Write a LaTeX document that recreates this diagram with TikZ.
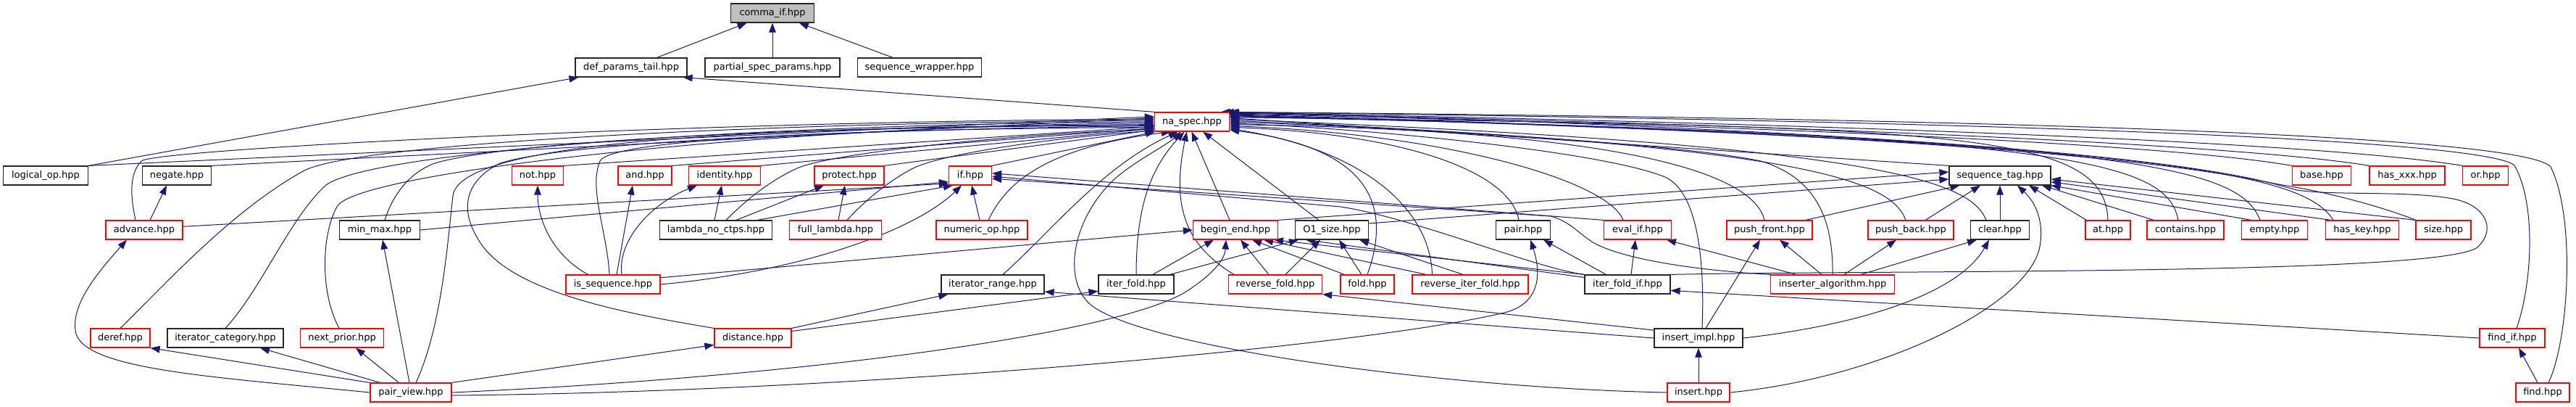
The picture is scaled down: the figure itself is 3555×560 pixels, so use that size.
\documentclass[tikz,border=0pt]{standalone}
\usepackage{fontspec}
\newfontfamily\nf{DejaVu Sans}
\usetikzlibrary{arrows.meta,calc}
\definecolor{edgec}{HTML}{191970}
\definecolor{redb}{HTML}{FF0000}
\pgfdeclarelayer{bg}
\pgfsetlayers{bg,main}
\begin{document}
\begin{tikzpicture}[x=1pt,y=1pt,
  nb/.style={draw=black!85, line width=1.2pt, fill=white, minimum height=26pt, inner sep=0pt, font={\nf\fontsize{13}{15}\selectfont}},
  nr/.style={nb, draw=redb},
  ln/.style={draw=edgec, line width=1pt, -{Triangle[length=13pt,width=9.5pt]}}]
\path[use as bounding box] (0,0) rectangle (3555,-560);
% row 0
\node[nb, fill=black!25, minimum width=115pt] (cif) at (1066,-18) {comma\_if.hpp};
% row 1
\node[nb, minimum width=154pt] (dpt) at (871,-93) {def\_params\_tail.hpp};
\node[nb, minimum width=186pt] (psp) at (1066,-93) {partial\_spec\_params.hpp};
\node[nb, minimum width=171pt] (sw) at (1269,-93) {sequence\_wrapper.hpp};
% row 2
\node[nr, minimum width=103pt] (na) at (1645,-168) {na\_spec.hpp};
% row 3
\node[nb, minimum width=117pt] (lop) at (63,-242) {logical\_op.hpp};
\node[nb, minimum width=95pt] (neg) at (244,-242) {negate.hpp};
\node[nr, minimum width=71pt] (nott) at (742,-242) {not.hpp};
\node[nr, minimum width=74pt] (andd) at (890,-242) {and.hpp};
\node[nr, minimum width=99pt] (ident) at (1000,-242) {identity.hpp};
\node[nr, minimum width=96pt] (prot) at (1172,-242) {protect.hpp};
\node[nr, minimum width=59pt] (iff) at (1339,-242) {if.hpp};
\node[nb, minimum width=140pt] (stag) at (2760,-242) {sequence\_tag.hpp};
\node[nr, minimum width=81pt] (base) at (3204,-242) {base.hpp};
\node[nr, minimum width=104pt] (hxxx) at (3322,-242) {has\_xxx.hpp};
\node[nr, minimum width=63pt] (orr) at (3430,-242) {or.hpp};
% row 4
\node[nr, minimum width=106pt] (adv) at (199,-317) {advance.hpp};
\node[nb, minimum width=111pt] (mm) at (524,-317) {min\_max.hpp};
\node[nb, minimum width=155pt] (lnc) at (988,-317) {lambda\_no\_ctps.hpp};
\node[nr, minimum width=127pt] (fl) at (1153,-317) {full\_lambda.hpp};
\node[nr, minimum width=126pt] (nop) at (1355,-317) {numeric\_op.hpp};
\node[nr, minimum width=117pt] (be) at (1705,-317) {begin\_end.hpp};
\node[nb, minimum width=101pt] (o1) at (1838,-317) {O1\_size.hpp};
\node[nb, minimum width=75pt] (pair) at (2102,-317) {pair.hpp};
\node[nr, minimum width=93pt] (evif) at (2260,-317) {eval\_if.hpp};
\node[nr, minimum width=118pt] (pf) at (2442,-317) {push\_front.hpp};
\node[nr, minimum width=118pt] (pb) at (2637,-317) {push\_back.hpp};
\node[nb, minimum width=81pt] (clr) at (2760,-317) {clear.hpp};
\node[nr, minimum width=62pt] (atn) at (2909,-317) {at.hpp};
\node[nr, minimum width=106pt] (cont) at (3016,-317) {contains.hpp};
\node[nr, minimum width=91pt] (emp) at (3139,-317) {empty.hpp};
\node[nr, minimum width=101pt] (hk) at (3260,-317) {has\_key.hpp};
\node[nr, minimum width=76pt] (size) at (3372,-317) {size.hpp};
% row 5
\node[nr, minimum width=130pt] (isseq) at (846,-392) {is\_sequence.hpp};
\node[nb, minimum width=142pt] (itr) at (1370,-392) {iterator\_range.hpp};
\node[nb, minimum width=104pt] (itf) at (1568,-392) {iter\_fold.hpp};
\node[nr, minimum width=129pt] (rf) at (1760,-392) {reverse\_fold.hpp};
\node[nr, minimum width=74pt] (fold) at (1887,-392) {fold.hpp};
\node[nr, minimum width=160pt] (rif) at (2029,-392) {reverse\_iter\_fold.hpp};
\node[nb, minimum width=118pt] (itfi) at (2246,-392) {iter\_fold\_if.hpp};
\node[nr, minimum width=171pt] (ins) at (2529,-392) {inserter\_algorithm.hpp};
% row 6
\node[nr, minimum width=82pt] (deref) at (166,-466) {deref.hpp};
\node[nb, minimum width=160pt] (itcat) at (311,-466) {iterator\_category.hpp};
\node[nr, minimum width=115pt] (np) at (472,-466) {next\_prior.hpp};
\node[nr, minimum width=106pt] (dist) at (1039,-466) {distance.hpp};
\node[nb, minimum width=122pt] (iimp) at (2344,-466) {insert\_impl.hpp};
\node[nr, minimum width=90pt] (fif) at (3467,-466) {find\_if.hpp};
% row 7
\node[nr, minimum width=112pt] (pv) at (567,-541) {pair\_view.hpp};
\node[nr, minimum width=86pt] (insert) at (2344,-541) {insert.hpp};
\node[nr, minimum width=74pt] (find) at (3509,-541) {find.hpp};

\begin{pgfonlayer}{bg}
\fill[white] (0,0) rectangle (3555,-560);
% top
\draw[ln] (dpt) -- (cif);
\draw[ln] (psp) -- (cif);
\draw[ln] (sw) -- (cif);
\draw[ln] (lop.north east) -- ($(dpt.south west)+(5,0)$);
\draw[ln] (na.165) -- ($(dpt.south east)+(-6,0)$);
% left fan into na_spec
\draw[ln] (lop.north east) -- (na.172);
\draw[ln] (neg.north east) -- (na.174);
\draw[ln] ($(adv.north)+(-12,0)$) .. controls (180,-270) and (178,-240) .. (195,-222) .. controls (215,-205) and (1000,-166) .. (na.176);
\draw[ln] (deref.north) .. controls (230,-390) and (320,-290) .. (420,-235) .. controls (500,-195) and (1100,-168) .. (na.178);
\draw[ln] (itcat.north) .. controls (360,-400) and (400,-300) .. (450,-255) .. controls (520,-205) and (1100,-170) .. (na.180);
\draw[ln] ($(np.north)+(-4,0)$) .. controls (440,-400) and (445,-320) .. (465,-285) .. controls (490,-235) and (1100,-172) .. (na.182);
\draw[ln] ($(mm.north)+(7,0)$) .. controls (540,-275) and (560,-240) .. (600,-225) .. controls (700,-195) and (1100,-174) .. (na.184);
\draw[ln] ($(pv.north)+(7,0)$) .. controls (610,-450) and (618,-330) .. (625,-270) .. controls (635,-180) and (1200,-176) .. (na.185);
\draw[ln] (dist.north west) .. controls (850,-430) and (700,-400) .. (660,-330) .. controls (635,-290) and (640,-250) .. (690,-225) .. controls (800,-190) and (1300,-177) .. (na.186);
\draw[ln] (nott.north east) -- (na.187);
\draw[ln] ($(isseq.north)+(-5,0)$) .. controls (838,-320) and (812,-260) .. (828,-222) .. controls (845,-190) and (1200,-178) .. (na.188);
\draw[ln] (andd.north east) -- (na.189);
\draw[ln] (ident.north east) -- (na.190);
\draw[ln] ($(lnc.north)+(14,0)$) .. controls (1025,-280) and (1060,-250) .. (1100,-232) .. controls (1150,-210) and (1400,-185) .. (na.191);
\draw[ln] (prot.north east) -- (na.192);
\draw[ln] ($(fl.north)+(16,0)$) .. controls (1190,-280) and (1225,-250) .. (1260,-232) .. controls (1300,-212) and (1450,-190) .. (na.193);
\draw[ln] (iff.north east) -- (na.195);
% from below into na_spec
\draw[ln] ($(nop.north)+(9,0)$) .. controls (1385,-260) and (1430,-205) .. (na.205);
\draw[ln] ($(itr.north)+(14,0)$) .. controls (1450,-320) and (1520,-230) .. (na.215);
\draw[ln] (insert.west) .. controls (2000,-535) and (1580,-480) .. (1505,-420) .. controls (1465,-385) and (1480,-300) .. (1540,-245) .. controls (1570,-220) and (1610,-200) .. (na.222);
\draw[ln] (itf.north) .. controls (1568,-280) and (1590,-230) .. (na.232);
\draw[ln] ($(rf.north west)+(8,0)$) .. controls (1640,-340) and (1615,-290) .. (na.242);
\draw[ln] ($(be.north)+(-8,0)$) -- (na.268);
\draw[ln] ($(o1.north)+(-18,0)$) -- (na.318);
% right side into na_spec
\draw[ln] (fold.north) .. controls (1930,-260) and (1860,-200) .. (na.348);
\draw[ln] ($(rif.north west)+(28,0)$) .. controls (1975,-300) and (1900,-210) .. (na.350);
\draw[ln] ($(pair.north)+(-6,0)$) .. controls (2085,-240) and (1950,-185) .. (na.352);
\draw[ln] ($(evif.north)+(-20,0)$) .. controls (2220,-250) and (2000,-185) .. (na.354);
\draw[ln] ($(pf.north)+(-7,0)$) .. controls (2420,-240) and (2250,-180) .. (na.356);
\draw[ln] ($(iimp.north)+(5,0)$) .. controls (2352,-380) and (2348,-270) .. (2300,-245) .. controls (2220,-210) and (1900,-178) .. (na.358);
\draw[ln] (ins.north) .. controls (2530,-300) and (2505,-245) .. (2430,-222) .. controls (2300,-195) and (1900,-175) .. (na.0);
\draw[ln] ($(pb.north)+(-7,0)$) .. controls (2610,-250) and (2500,-200) .. (na.2);
\draw[ln] ($(clr.north west)+(22,0)$) .. controls (2720,-250) and (2600,-200) .. (na.4);
\draw[ln] (stag.north west) -- (na.6);
\draw[ln] (atn.north) .. controls (2905,-180) and (2700,-175) .. (na.7);
\draw[ln] ($(cont.north)+(-10,0)$) .. controls (2990,-220) and (2850,-185) .. (na.8);
\draw[ln] ($(emp.north)+(-20,0)$) .. controls (3090,-230) and (2950,-190) .. (na.9);
\draw[ln] ($(hk.north)+(-40,0)$) .. controls (3180,-240) and (3000,-195) .. (na.10);
\draw[ln] ($(size.north)+(-38,0)$) .. controls (3300,-290) and (3230,-268) .. (3150,-255) .. controls (3080,-243) and (2900,-190) .. (na.11);
\draw[ln] (base.north west) .. controls (3000,-200) and (2500,-175) .. (na.12);
\draw[ln] (hxxx.north west) .. controls (3100,-200) and (2500,-172) .. (na.13);
\draw[ln] (orr.north west) .. controls (3200,-195) and (2500,-170) .. (na.14);
\draw[ln] (itfi.north east) .. controls (2600,-372) and (3380,-380) .. (3420,-340) .. controls (3445,-315) and (3430,-285) .. (3390,-275) .. controls (3330,-262) and (3220,-270) .. (3170,-262) .. controls (3120,-250) and (3000,-190) .. (na.15);
\draw[ln] ($(fif.north)+(6,0)$) .. controls (3495,-390) and (3500,-280) .. (3470,-228) .. controls (3440,-200) and (3000,-170) .. (na.17);
\draw[ln] ($(find.north)+(8,0)$) .. controls (3545,-470) and (3555,-300) .. (3520,-230) .. controls (3490,-195) and (3000,-165) .. (na.19);
% into sequence_tag
\draw[ln] (be.north east) -- (stag.176);
\draw[ln] (o1.10) -- (stag.184);
\draw[ln] ($(pf.north east)+(-10,0)$) -- ($(stag.south west)+(15,0)$);
\draw[ln] ($(pb.north)+(20,0)$) -- ($(stag.south)+(-27,0)$);
\draw[ln] (clr.north) -- (stag.south);
\draw[ln] ($(atn.north west)+(2,0)$) -- ($(stag.south)+(40,0)$);
\draw[ln] ($(cont.north west)+(10,0)$) -- ($(stag.south)+(58,0)$);
\draw[ln] ($(emp.north west)+(14,0)$) -- (stag.south east);
\draw[ln] ($(hk.north west)+(8,0)$) -- (stag.-7);
\draw[ln] (size.north west) -- (stag.-4);
\draw[ln] (insert.east) .. controls (2600,-520) and (2800,-420) .. (2815,-340) .. controls (2822,-300) and (2805,-275) .. ($(stag.south)+(24,0)$);
% inserter_algorithm, insert_impl
\draw[ln] (iimp.east) .. controls (2550,-450) and (2700,-410) .. ($(clr.south)+(-15,0)$);
\draw[ln] ($(ins.north)+(-15,0)$) -- ($(pf.south)+(14,0)$);
\draw[ln] ($(ins.north)+(16,0)$) -- ($(pb.south)+(-20,0)$);
\draw[ln] ($(ins.north)+(39,0)$) -- ($(clr.south)+(-32,0)$);
\draw[ln] ($(ins.north west)+(36,0)$) -- ($(evif.south)+(40,0)$);
\draw[ln] (ins.north west) .. controls (2330,-372) and (2230,-355) .. (2195,-332) .. controls (2175,-318) and (2165,-305) .. (2140,-298) -- (iff.352);
\draw[ln] (itfi.north west) .. controls (2120,-370) and (1950,-300) .. (1850,-285) -- (iff.358);
\draw[ln] (evif.north west) -- (iff.6);
\draw[ln] ($(itfi.north west)+(30,0)$) -- ($(pair.south)+(28,0)$);
\draw[ln] ($(itfi.north)+(5,0)$) -- ($(evif.south)+(-3,0)$);
\draw[ln] (itfi.north west) -- ($(be.south)+(53,0)$);
\draw[ln] ($(itfi.north west)+(0,-4)$) -- ($(o1.south)+(-36,0)$);
\draw[ln] (fif.west) -- (itfi.-8);
\draw[ln] ($(find.north)+(-7,0)$) -- ($(fif.south)+(9,0)$);
\draw[ln] (insert) -- (iimp);
\draw[ln] (iimp.west) -- (itr.-8);
\draw[ln] (iimp.170) -- (rf.south east);
\draw[ln] ($(iimp.north)+(10,0)$) -- ($(pf.south)+(-13,0)$);
% distance
\draw[ln] (dist.north east) -- ($(itr.south west)+(10,0)$);
\draw[ln] (dist.10) -- (itf.190);
% pair_view
\draw[ln] ($(pv.north)+(-2,0)$) -- ($(mm.south)+(4,0)$);
\draw[ln] ($(pv.north west)+(40,0)$) -- ($(np.south)+(19,0)$);
\draw[ln] ($(pv.north west)+(14,0)$) -- ($(itcat.south)+(48,0)$);
\draw[ln] (pv.north west) -- (deref.south east);
\draw[ln] (pv.west) .. controls (300,-520) and (120,-510) .. (105,-460) .. controls (95,-420) and (140,-370) .. ($(adv.south)+(-24,0)$);
\draw[ln] (pv.north east) -- (dist.190);
\draw[ln] (pv.east) .. controls (1100,-520) and (1550,-460) .. (1640,-400) .. controls (1670,-380) and (1690,-360) .. ($(be.south)+(-13,0)$);
\draw[ln] ($(pv.east)+(0,-4)$) .. controls (1200,-540) and (1900,-475) .. (2080,-430) .. controls (2130,-415) and (2125,-370) .. ($(pair.south)+(10,0)$);
% advance, min_max
\draw[ln] ($(adv.north)+(8,0)$) -- ($(neg.south)+(-14,0)$);
\draw[ln] (adv.5) -- (iff.200);
\draw[ln] (mm.east) -- (iff.196);
% is_sequence
\draw[ln] ($(isseq.north west)+(31,0)$) .. controls (760,-350) and (742,-300) .. (nott.south);
\draw[ln] ($(isseq.north)+(5,0)$) -- ($(andd.south)+(-17,0)$);
\draw[ln] ($(isseq.north)+(12,0)$) .. controls (852,-330) and (900,-280) .. ($(ident.south)+(-38,0)$);
\draw[ln] (isseq.east) .. controls (1100,-375) and (1260,-320) .. ($(iff.south)+(-12,0)$);
\draw[ln] (isseq.8) -- (be.west);
% lambda group
\draw[ln] ($(lnc.north)+(-2,0)$) -- ($(ident.south)+(-4,0)$);
\draw[ln] ($(lnc.north)+(28,0)$) -- ($(prot.south)+(-35,0)$);
\draw[ln] ($(lnc.north)+(57,0)$) -- ($(iff.south west)+(6,0)$);
\draw[ln] ($(fl.north)+(4,0)$) -- ($(prot.south)+(-6,0)$);
\draw[ln] ($(nop.north)+(-3,0)$) -- ($(iff.south)+(2,0)$);
% fold family
\draw[ln] ($(itf.north)+(23,0)$) -- ($(be.south)+(-30,0)$);
\draw[ln] ($(itf.north east)+(-6,0)$) -- ($(o1.south)+(-46,0)$);
\draw[ln] ($(rf.north)+(-9,0)$) -- ($(be.south)+(7,0)$);
\draw[ln] ($(rf.north)+(14,0)$) -- ($(o1.south)+(-16,0)$);
\draw[ln] ($(fold.north west)+(6,0)$) -- ($(be.south)+(23,0)$);
\draw[ln] ($(fold.north)+(-8,0)$) -- ($(o1.south)+(10,0)$);
\draw[ln] ($(rif.north west)+(20,0)$) -- ($(be.south)+(39,0)$);
\draw[ln] ($(rif.north)+(-10,0)$) -- ($(o1.south)+(38,0)$);
\end{pgfonlayer}
\end{tikzpicture}
\end{document}
